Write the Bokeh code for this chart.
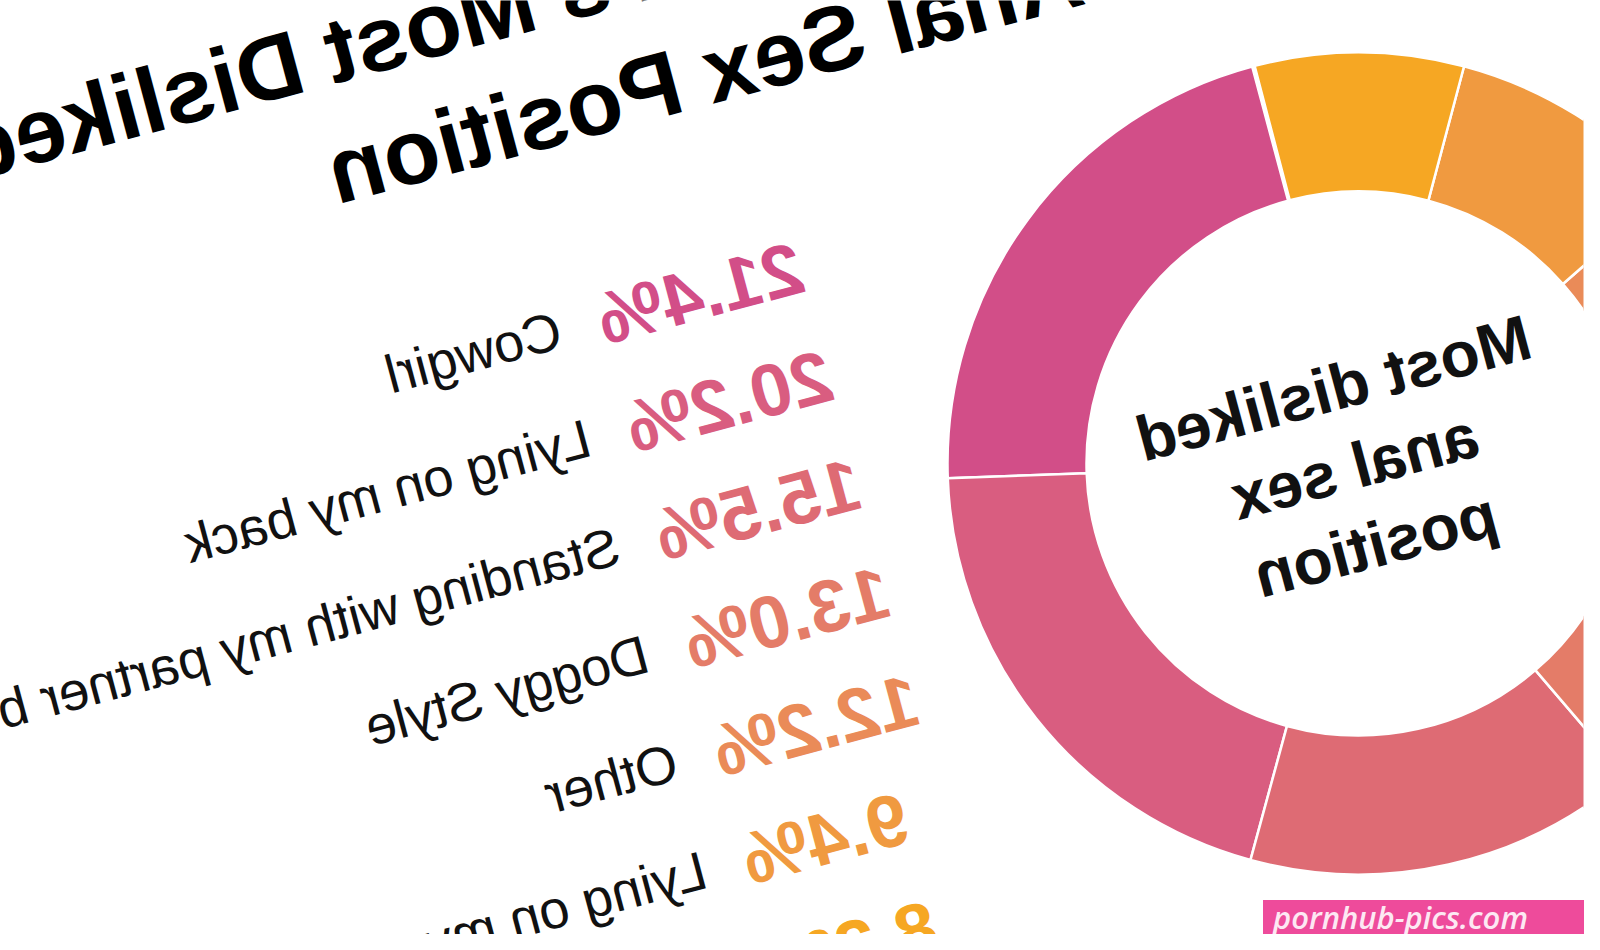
import math
from bokeh.plotting import figure
from bokeh.models import ColumnDataSource, Range1d, Div
from bokeh.layouts import column
from bokeh.embed import file_html
from bokeh.resources import INLINE
from bokeh.core.properties import value

# ---------------- data ----------------
categories = ["Cowgirl", "Lying on my back", "Standing with my partner behind me",
              "Doggy Style", "Other", "Lying on my stomach", "Lying on my side"]
values = [21.4, 20.2, 15.5, 13.0, 12.2, 9.4, 8.2]
colors = ["#d24e88", "#d95d80", "#de6b74", "#e47c68", "#ea8b58", "#f09a40", "#f6a723"]
pct_labels = [f"{v:.1f}%" for v in values]
title_lines = ["Women's Most Disliked", "Anal Sex Position"]
center_lines = ["Most disliked", "anal sex", "position"]
watermark = "pornhub-pics.com"

# ---------------- layout constants ----------------
W, H = 1584, 934
ANG = -15.0                      # text rotation (deg)
th = math.radians(ANG)
ex, ey = math.cos(th), math.sin(th)          # reading direction
ux, uy = -math.sin(th), math.cos(th)         # text "up" direction


def X(ref_x):
    return W - ref_x


def Y(ref_y):
    return H - ref_y


p = figure(width=W, height=H, x_range=Range1d(0, W), y_range=Range1d(0, H),
           output_backend="svg", toolbar_location=None, min_border=0,
           x_axis_location=None, y_axis_location=None)
p.grid.visible = False
p.outline_line_color = None
p.background_fill_color = "white"
p.styles = {"transform": "scaleX(-1)"}

# ---------------- donut ----------------
cx, cy = X(1359), Y(463)
r_in, r_out = 272, 411
start0 = 75.0
starts, ends = [], []
cum = 0.0
for v in values:
    s = start0 - cum * 3.6
    starts.append(s)
    ends.append(s - v * 3.6)
    cum += v
wsrc = ColumnDataSource(dict(start=starts, end=ends, color=colors, cat=categories))
p.annular_wedge(x=cx, y=cy, inner_radius=r_in, outer_radius=r_out,
                start_angle="start", end_angle="end",
                start_angle_units="deg", end_angle_units="deg",
                direction="clock", fill_color="color", line_color="white",
                line_width=2.5, source=wsrc)

# center text
tcx, tcy = X(1355), Y(466)
lh = 81
cxs = [tcx + (1 - i) * lh * ux for i in range(len(center_lines))]
cys = [tcy + (1 - i) * lh * uy for i in range(len(center_lines))]
p.text(x=cxs, y=cys, text=center_lines, angle=ANG, angle_units="deg",
       text_align="center", text_baseline="middle", text_color="#111111",
       text_font=value("Liberation Sans"), text_font_style="bold",
       text_font_size="64px")

# ---------------- list ----------------
ax0, ay0 = X(580), Y(345)
sx, sy = -29.0, -108.0
gap = 20
pct_lift, lab_lift = 20, 22
n = len(values)
axs = [ax0 + i * sx for i in range(n)]
ays = [ay0 + i * sy for i in range(n)]
lsrc = ColumnDataSource(dict(
    px=[a - gap * ex for a in axs], py=[b - gap * ey + pct_lift for b in ays],
    lx=[a + gap * ex for a in axs], ly=[b + gap * ey + lab_lift for b in ays],
    pct=pct_labels, cat=categories, color=colors))
p.text(x="px", y="py", text="pct", source=lsrc, angle=ANG, angle_units="deg",
       text_align="right", text_baseline="alphabetic", text_color="color",
       text_font=value("Liberation Sans"), text_font_style="bold",
       text_font_size="74px")
p.text(x="lx", y="ly", text="cat", source=lsrc, angle=ANG, angle_units="deg",
       text_align="left", text_baseline="alphabetic", text_color="#111111",
       text_font=value("Liberation Sans"), text_font_size="54px")

# ---------------- title ----------------
title_lift = 36
t_x = [X(948), X(1080)]
t_y = [Y(-78) + title_lift, Y(8) + title_lift]
p.text(x=t_x, y=t_y, text=title_lines, angle=ANG, angle_units="deg",
       text_align="left", text_baseline="alphabetic", text_color="#000000",
       text_font=value("Liberation Sans"), text_font_style="bold",
       text_font_size="92px")

# ---------------- watermark ----------------
wm = Div(text=f'<span style="font-family:\'Open Sans\';font-style:italic;font-weight:600;'
              f'font-size:31px;color:#fde8f3;line-height:34px;padding-left:10px;white-space:nowrap">{watermark}</span>',
         width=321, height=34, margin=(-34, 0, 0, 1263),
         styles={"background-color": "#ee4b9b", "overflow": "hidden",
                 "position": "relative", "z-index": "10"})

layout = column(p, wm, spacing=0)
open("out.html", "w").write(file_html(layout, INLINE))
